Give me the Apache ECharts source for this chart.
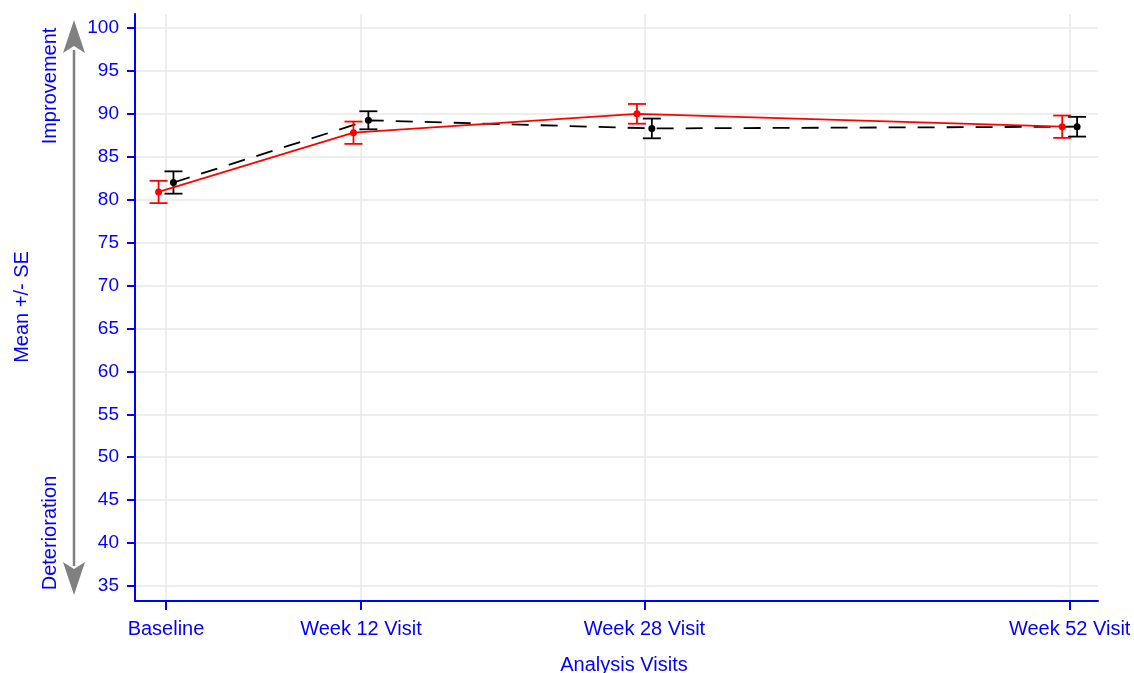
<!DOCTYPE html>
<html>
<head>
<meta charset="utf-8">
<script src="https://cdn.jsdelivr.net/npm/echarts@6/dist/echarts.min.js"></script>
<style>
html,body{margin:0;padding:0;background:#fff}
#main{width:1134px;height:673px}
</style>
</head>
<body>
<div id="main"></div>
<script>
// visits (x positions in weeks) and their labels
var visitWeeks = [1, 12, 28, 52];
var visitLabels = ['Baseline', 'Week 12 Visit', 'Week 28 Visit', 'Week 52 Visit'];
var yTicks = [35, 40, 45, 50, 55, 60, 65, 70, 75, 80, 85, 90, 95, 100];

// red group (solid)
var redMean = [80.9, 87.8, 90.0, 88.5];
var redSE = [1.3, 1.3, 1.15, 1.3];
// black group (dashed)
var blackMean = [82.0, 89.25, 88.3, 88.5];
var blackSE = [1.3, 1.05, 1.15, 1.15];

var BLUE = '#0000ff';
var FONT = 'Liberation Sans, Arial, sans-serif';
var SHIFT = 0.42; // small dodge so the two groups don't overlap

var myChart = echarts.init(document.getElementById('main'));

function lineSeries(name, mean, color, shift, dashed) {
	return {
		name: name,
		type: 'line',
		data: visitWeeks.map(function (w, i) { return [w + shift, mean[i]]; }),
		symbol: 'circle',
		symbolSize: 7,
		itemStyle: { color: color },
		lineStyle: { color: color, width: 1.8, type: dashed ? [17, 12] : 'solid' },
		z: dashed ? 3 : 5
	};
}

function errorSeries(name, mean, se, color, shift) {
	return {
		name: name,
		type: 'custom',
		data: visitWeeks.map(function (w, i) { return [w + shift, mean[i] - se[i], mean[i] + se[i]]; }),
		encode: { x: 0, y: [1, 2] },
		renderItem: function (params, api) {
			var lo = api.coord([api.value(0), api.value(1)]);
			var hi = api.coord([api.value(0), api.value(2)]);
			var hw = 9;
			var st = { stroke: color, lineWidth: 1.8 };
			return {
				type: 'group',
				children: [
					{ type: 'line', shape: { x1: lo[0], y1: lo[1], x2: hi[0], y2: hi[1] }, style: st },
					{ type: 'line', shape: { x1: lo[0] - hw, y1: lo[1], x2: lo[0] + hw, y2: lo[1] }, style: st },
					{ type: 'line', shape: { x1: hi[0] - hw, y1: hi[1], x2: hi[0] + hw, y2: hi[1] }, style: st }
				]
			};
		},
		z: name.indexOf('red') >= 0 ? 4 : 2
	};
}

myChart.setOption({
	animation: false,
	backgroundColor: '#fff',
	grid: { left: 135, right: 36, top: 14, bottom: 72 },
	xAxis: {
		type: 'value',
		min: -0.75,
		max: 53.6,
		axisLine: { show: true, onZero: false, lineStyle: { color: BLUE, width: 2 } },
		axisTick: { show: true, length: 9, customValues: visitWeeks, lineStyle: { color: BLUE, width: 2 } },
		axisLabel: {
			customValues: visitWeeks,
			color: BLUE, fontSize: 20, fontFamily: FONT, margin: 18,
			formatter: function (v) {
				var i = visitWeeks.indexOf(v);
				return i >= 0 ? visitLabels[i] : '';
			}
		},
		splitLine: { show: true, lineStyle: { color: '#e8e8e8', width: 1.5 } }
	},
	yAxis: {
		type: 'value',
		min: 33.25,
		max: 101.63,
		axisLine: { show: true, onZero: false, lineStyle: { color: BLUE, width: 2 } },
		axisTick: { show: true, length: 8, customValues: yTicks, lineStyle: { color: BLUE, width: 2 } },
		axisLabel: { customValues: yTicks, color: BLUE, fontSize: 19, fontFamily: FONT, margin: 16 },
		splitLine: { show: true, lineStyle: { color: '#e8e8e8', width: 1.5 } }
	},
	graphic: [
		// double-headed direction arrow
		{ type: 'line', shape: { x1: 74, y1: 50, x2: 74, y2: 566 }, style: { stroke: '#808080', lineWidth: 2.5 } },
		{ type: 'polygon', shape: { points: [[74, 20], [63, 53], [74, 46], [85, 53]] }, style: { fill: '#808080' } },
		{ type: 'polygon', shape: { points: [[74, 595], [63, 562], [74, 569], [85, 562]] }, style: { fill: '#808080' } },
		{ type: 'text', x: 50, y: 86, rotation: Math.PI / 2,
			style: { text: 'Improvement', fill: BLUE, fontSize: 20, fontFamily: FONT, align: 'center', verticalAlign: 'middle' } },
		{ type: 'text', x: 50, y: 533, rotation: Math.PI / 2,
			style: { text: 'Deterioration', fill: BLUE, fontSize: 20, fontFamily: FONT, align: 'center', verticalAlign: 'middle' } },
		{ type: 'text', x: 22, y: 307, rotation: Math.PI / 2,
			style: { text: 'Mean +/- SE', fill: BLUE, fontSize: 20, fontFamily: FONT, align: 'center', verticalAlign: 'middle' } },
		{ type: 'text', x: 624, y: 665,
			style: { text: 'Analysis Visits', fill: BLUE, fontSize: 20, fontFamily: FONT, align: 'center', verticalAlign: 'middle' } }
	],
	series: [
		errorSeries('black err', blackMean, blackSE, '#000', SHIFT),
		lineSeries('black', blackMean, '#000', SHIFT, true),
		errorSeries('red err', redMean, redSE, '#ff0000', -SHIFT),
		lineSeries('red', redMean, '#ff0000', -SHIFT, false)
	]
});
</script>
</body>
</html>
